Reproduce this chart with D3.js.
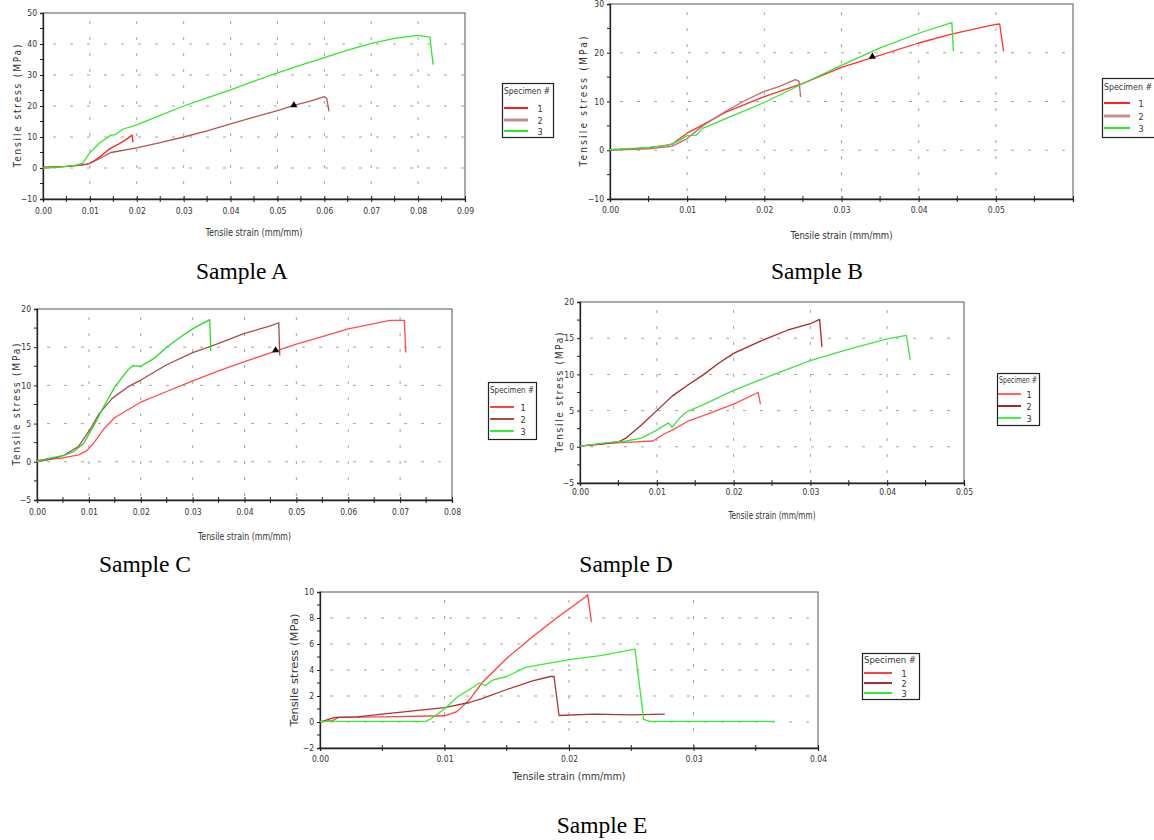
<!DOCTYPE html>
<html>
<head>
<meta charset="utf-8">
<script src="https://cdn.jsdelivr.net/npm/d3@7/dist/d3.min.js"></script>
<style>
  body { margin: 0; background: #fff; }
  svg { font-family: "DejaVu Sans Condensed", "DejaVu Sans", sans-serif; }
</style>
</head>
<body>
<svg id="fig" width="1154" height="840"></svg>
<script>
// ---- data ----
const sampleNames = ["Sample A", "Sample B", "Sample C", "Sample D", "Sample E"];
const specimens = ["1", "2", "3"];
const legendTitle = "Specimen #";
const xTitle = "Tensile strain (mm/mm)";
const yTitle = "Tensile stress (MPa)";

// sample A  [strain, stress]
const a1 = [[0,0.3],[0.003,0.4],[0.005,0.5],[0.008,0.9],[0.0095,1.2],[0.011,2.4],[0.0125,4],[0.014,6],[0.016,7.6],[0.0175,9],[0.019,10.6],[0.0192,8.3]];
const a2 = [[0,0],[0.003,0.3],[0.005,0.5],[0.008,0.9],[0.01,1.5],[0.012,3],[0.0145,5],[0.02,6.5],[0.025,8.2],[0.03,10],[0.035,12],[0.04,14.2],[0.045,16.4],[0.05,18.5],[0.0535,20.2],[0.057,21.6],[0.06,23],[0.0605,22.5],[0.061,18.3]];
const a3 = [[0,0],[0.003,0.3],[0.005,0.5],[0.007,0.9],[0.0085,1.6],[0.0099,4.8],[0.012,8],[0.0145,10.6],[0.0155,10.8],[0.017,12.5],[0.02,13.9],[0.025,17],[0.03,20],[0.035,22.6],[0.04,25.2],[0.045,28],[0.05,30.7],[0.055,33.2],[0.06,35.6],[0.065,38],[0.07,40.2],[0.075,41.8],[0.08,42.8],[0.0825,42.2],[0.0832,33.3]];
const markA = [0.0535, 20.3];

// sample B
const b1 = [[0,0.1],[0.003,0.3],[0.005,0.5],[0.008,1.2],[0.01,3.5],[0.012,5.2],[0.015,7.8],[0.02,11],[0.025,13.7],[0.03,17],[0.034,19],[0.04,22],[0.044,23.7],[0.047,24.8],[0.05,25.8],[0.0505,25.9],[0.051,20.3]];
const b2 = [[0,0],[0.003,0.2],[0.005,0.3],[0.008,0.8],[0.01,2.4],[0.012,5],[0.015,8],[0.0175,10.2],[0.02,12.1],[0.022,13.1],[0.024,14.5],[0.0245,14.2],[0.0247,10.9]];
const b3 = [[0,0.1],[0.003,0.4],[0.005,0.6],[0.0075,1],[0.009,2],[0.01,3],[0.0112,3.1],[0.012,4.5],[0.015,6.5],[0.02,9.8],[0.025,13.7],[0.03,17.4],[0.035,21],[0.04,24],[0.0443,26.2],[0.0445,20.3]];
const markB = [0.034, 19.2];

// sample C
const c1 = [[0,0.2],[0.003,0.4],[0.005,0.5],[0.008,0.9],[0.0095,1.4],[0.011,2.5],[0.013,4.4],[0.015,5.8],[0.02,7.8],[0.025,9.2],[0.03,10.6],[0.035,11.9],[0.04,13.1],[0.046,14.5],[0.05,15.4],[0.055,16.4],[0.06,17.4],[0.065,18.1],[0.068,18.5],[0.0708,18.5],[0.0711,14.3]];
const c2 = [[0,0],[0.003,0.4],[0.005,0.8],[0.008,2],[0.01,4],[0.012,6.3],[0.0145,8.3],[0.0175,9.8],[0.02,10.7],[0.025,12.7],[0.03,14.3],[0.0335,15.1],[0.035,15.5],[0.04,16.8],[0.045,17.8],[0.0466,18.2],[0.0468,13.9]];
const c3 = [[0,0],[0.002,0.4],[0.005,0.8],[0.007,1.3],[0.009,2.4],[0.011,4.8],[0.013,7.4],[0.015,9.8],[0.0175,12],[0.0185,12.6],[0.02,12.5],[0.0225,13.5],[0.025,15],[0.028,16.5],[0.03,17.4],[0.0333,18.6],[0.0335,14.5]];
const markC = [0.046, 14.6];

// sample D
const d1 = [[0,0.1],[0.003,0.4],[0.006,0.6],[0.0095,0.8],[0.011,1.8],[0.012,2.3],[0.014,3.5],[0.017,4.7],[0.02,5.9],[0.0232,7.5],[0.0235,5.9]];
const d2 = [[0,0.1],[0.003,0.4],[0.005,0.7],[0.006,1.2],[0.008,3],[0.01,5],[0.012,7],[0.014,8.5],[0.016,9.9],[0.018,11.5],[0.02,12.9],[0.0235,14.6],[0.027,16.1],[0.03,17],[0.0312,17.6],[0.0315,13.8]];
const d3v = [[0,0.1],[0.003,0.5],[0.006,0.8],[0.008,1.2],[0.01,2.3],[0.0115,3.3],[0.012,2.7],[0.013,4],[0.014,4.9],[0.016,5.8],[0.02,7.8],[0.025,9.9],[0.03,11.9],[0.035,13.5],[0.04,14.9],[0.0425,15.4],[0.043,12]];

// sample E
const e1 = [[0,0],[0.001,0.1],[0.0015,0.35],[0.005,0.4],[0.01,0.48],[0.011,0.8],[0.012,1.7],[0.013,3],[0.015,4.9],[0.017,6.5],[0.019,8],[0.02,8.7],[0.0213,9.6],[0.0215,9.8],[0.0218,7.7]];
const e2 = [[0,0],[0.0005,0.15],[0.0012,0.35],[0.003,0.4],[0.005,0.6],[0.01,1.1],[0.012,1.5],[0.013,1.8],[0.015,2.5],[0.017,3.15],[0.0185,3.5],[0.0188,3.5],[0.0192,0.5],[0.022,0.6],[0.025,0.55],[0.0277,0.6]];
const e3 = [[0,0.05],[0.0085,0.05],[0.009,0.3],[0.01,1],[0.011,1.9],[0.012,2.5],[0.0128,3],[0.0133,2.8],[0.0138,3.2],[0.015,3.5],[0.0165,4.2],[0.02,4.8],[0.0225,5.1],[0.0253,5.6],[0.026,0.2],[0.0265,0.05],[0.0365,0.05]];

// ---- layout of each panel ----
const panels = [
  { series: [a1, a2, a3], mark: markA, colors: ["#ff1e1e", "#b45454", "#2ee82e"], legColors: ["#ff1e1e", "#c88e8e", "#22ee22"],
    left: 43, right: 465, top: 13, bottom: 199, xMax: 0.09, xLabMax: 0.09, yDom: [-10, 50], yStep: 10,
    xLabY: 216, xTitleY: 236, xTitleLen: 97, yTitleX: 17, yTitleLen: 123, spaced: true,
    leg: { x: 502, y: 83, w: 51, h: 54, head: 91, headLen: 46, rows: [108, 120, 131], l0: 504, l1: 528, num: 540 },
    cap: { x: 242, y: 279 } },
  { series: [b1, b2, b3], mark: markB, colors: ["#ff3030", "#c06a6a", "#33e633"], legColors: ["#ff2020", "#c89090", "#22ee22"],
    left: 610, right: 1073, top: 4, bottom: 199, xMax: 0.06, xLabMax: 0.05, yDom: [-10, 30], yStep: 10,
    xLabY: 215, xTitleY: 239, xTitleLen: 102, yTitleX: 583, yTitleLen: 130, spaced: true,
    leg: { x: 1102, y: 78, w: 60, h: 59, head: 87, headLen: 48, rows: [103, 116, 128], l0: 1104, l1: 1130, num: 1141 },
    cap: { x: 817, y: 279 } },
  { series: [c1, c2, c3], mark: markC, colors: ["#ff4c4c", "#a84a4a", "#22dd22"], legColors: ["#ff4040", "#b04848", "#33ee33"],
    left: 37, right: 452, top: 309, bottom: 500, xMax: 0.08, xLabMax: 0.08, yDom: [-5, 20], yStep: 5,
    xLabY: 517, xTitleY: 540, xTitleLen: 93, yTitleX: 16, yTitleLen: 122, spaced: true,
    leg: { x: 488, y: 382, w: 48, h: 57, head: 390, headLen: 44, rows: [407, 419, 431], l0: 490, l1: 514, num: 523 },
    cap: { x: 145, y: 572 } },
  { series: [d1, d2, d3v], mark: null, colors: ["#ff5050", "#a42a2a", "#44e044"], legColors: ["#ff6060", "#a02828", "#44ee44"],
    left: 580, right: 964, top: 302, bottom: 483, xMax: 0.05, xLabMax: 0.05, yDom: [-5, 20], yStep: 5,
    xLabY: 497, xTitleY: 519, xTitleLen: 87, yTitleX: 559, yTitleLen: 120, spaced: true,
    leg: { x: 997, y: 373, w: 42, h: 52, head: 380, headLen: 38, rows: [394, 406, 418], l0: 998, l1: 1021, num: 1029 },
    cap: { x: 626, y: 572 } },
  { series: [e1, e2, e3], mark: null, colors: ["#ff4040", "#a83434", "#33ee33"], legColors: ["#ff4040", "#a83030", "#33ee33"],
    left: 320, right: 818, top: 592, bottom: 748, xMax: 0.04, xLabMax: 0.04, yDom: [-2, 10], yStep: 2,
    xLabY: 764, xTitleY: 780, xTitleLen: 113, yTitleX: 294, yTitleLen: 113, spaced: false,
    leg: { x: 862, y: 653, w: 57, h: 46, head: 660, headLen: 52, rows: [673, 683, 693], l0: 864, l1: 892, num: 904 },
    cap: { x: 602, y: 833 } }
];

const svg = d3.select("#fig");

panels.forEach((p, i) => {
  const g = svg.append("g");
  const x = d3.scaleLinear().domain([0, p.xMax]).range([p.left, p.right]);
  const y = d3.scaleLinear().domain(p.yDom).range([p.bottom, p.top]);
  const xMajor = d3.range(0, p.xMax + 1e-9, 0.01);
  const xMinor = d3.range(0.005, p.xMax, 0.01);
  const yMajor = d3.range(p.yDom[0], p.yDom[1] + 1e-9, p.yStep);
  const yMinor = d3.range(p.yDom[0] + p.yStep / 2, p.yDom[1], p.yStep);

  // dotted grid
  g.append("g").selectAll("line").data(xMajor.slice(1, -1)).join("line")
    .attr("x1", d => x(d)).attr("x2", d => x(d))
    .attr("y1", p.top).attr("y2", p.bottom)
    .attr("stroke", "#a5a596").attr("stroke-dasharray", "3,13").attr("stroke-dashoffset", -8);
  g.append("g").selectAll("line").data(yMajor.slice(1, -1)).join("line")
    .attr("x1", p.left).attr("x2", p.right)
    .attr("y1", d => y(d)).attr("y2", d => y(d))
    .attr("stroke", "#a5a596").attr("stroke-dasharray", "3,14").attr("stroke-dashoffset", -10);

  // frame
  g.append("rect").attr("x", p.left).attr("y", p.top)
    .attr("width", p.right - p.left).attr("height", p.bottom - p.top)
    .attr("fill", "none").attr("stroke", "#555").attr("stroke-width", 1);

  // axes
  const xAxis = d3.axisBottom(x).tickValues(xMajor).tickSize(3).tickFormat(d => d <= p.xLabMax + 1e-9 ? d3.format(".2f")(d) : "");
  const xa = g.append("g").attr("transform", `translate(0,${p.bottom})`).call(xAxis);
  xa.select(".domain").attr("stroke", "#222").attr("stroke-width", 1.3);
  xa.selectAll(".tick line").attr("y1", -3).attr("stroke", "#222");
  xa.selectAll(".tick text").attr("y", p.xLabY - p.bottom - 8).attr("fill", "#333")
    .style("font-size", "8.5px").style("font-family", "'DejaVu Sans Condensed', 'DejaVu Sans', sans-serif");
  g.append("g").selectAll("line").data(xMinor).join("line")
    .attr("x1", d => x(d)).attr("x2", d => x(d))
    .attr("y1", p.bottom - 3).attr("y2", p.bottom + 3).attr("stroke", "#222");

  const yAxis = d3.axisLeft(y).tickValues(yMajor).tickSize(3).tickFormat(d3.format("d"));
  const ya = g.append("g").attr("transform", `translate(${p.left},0)`).call(yAxis);
  ya.select(".domain").attr("stroke", "#222").attr("stroke-width", 1.3);
  ya.selectAll(".tick line").attr("stroke", "#222");
  ya.selectAll(".tick text").attr("fill", "#333")
    .style("font-size", "8.5px").style("font-family", "'DejaVu Sans Condensed', 'DejaVu Sans', sans-serif");
  g.append("g").selectAll("line").data(yMinor).join("line")
    .attr("x1", p.left - 3).attr("x2", p.left)
    .attr("y1", d => y(d)).attr("y2", d => y(d)).attr("stroke", "#222");

  // curves
  const line = d3.line().x(d => x(d[0])).y(d => y(d[1]));
  p.series.forEach((s, k) => {
    g.append("path").datum(s).attr("d", line)
      .attr("fill", "none").attr("stroke", p.colors[k]).attr("stroke-width", 1.3)
      .attr("stroke-linejoin", "round");
  });
  if (p.mark) {
    g.append("path").attr("d", d3.symbol(d3.symbolTriangle, 22)())
      .attr("transform", `translate(${x(p.mark[0])},${y(p.mark[1])})`).attr("fill", "#000");
  }

  // titles
  g.append("text").attr("x", (p.left + p.right) / 2).attr("y", p.xTitleY)
    .attr("text-anchor", "middle").style("font-size", "10px").attr("fill", "#333")
    .attr("textLength", p.xTitleLen).attr("lengthAdjust", "spacingAndGlyphs").text(xTitle);
  g.append("text")
    .attr("transform", `translate(${p.yTitleX + 4},${(p.top + p.bottom) / 2}) rotate(-90)`)
    .attr("text-anchor", "middle").style("font-size", p.spaced ? "10px" : "11px").attr("fill", "#333")
    .attr("textLength", p.yTitleLen).attr("lengthAdjust", p.spaced ? "spacing" : "spacingAndGlyphs").text(yTitle);

  // legend
  const L = p.leg;
  g.append("rect").attr("x", L.x + 0.5).attr("y", L.y + 0.5).attr("width", L.w).attr("height", L.h)
    .attr("fill", "#fff").attr("stroke", "#222").attr("stroke-width", 1.2);
  g.append("text").attr("x", L.x + 2).attr("y", L.head + 3).style("font-size", "8.5px").attr("fill", "#333")
    .attr("textLength", L.headLen).attr("lengthAdjust", "spacingAndGlyphs").text(legendTitle);
  specimens.forEach((sp, k) => {
    g.append("line").attr("x1", L.l0).attr("x2", L.l1).attr("y1", L.rows[k]).attr("y2", L.rows[k])
      .attr("stroke", p.legColors[k]).attr("stroke-width", (i < 2 && k === 1) ? 3 : 2);
    g.append("text").attr("x", L.num).attr("y", L.rows[k] + 3.5).style("font-size", "9px").attr("fill", "#333")
      .attr("text-anchor", "middle").text(sp);
  });

  // caption
  g.append("text").attr("x", p.cap.x).attr("y", p.cap.y).attr("text-anchor", "middle")
    .style("font-family", "'Liberation Serif', 'Times New Roman', serif").style("font-size", "23.5px")
    .attr("fill", "#000").text(sampleNames[i]);
});
</script>
</body>
</html>
